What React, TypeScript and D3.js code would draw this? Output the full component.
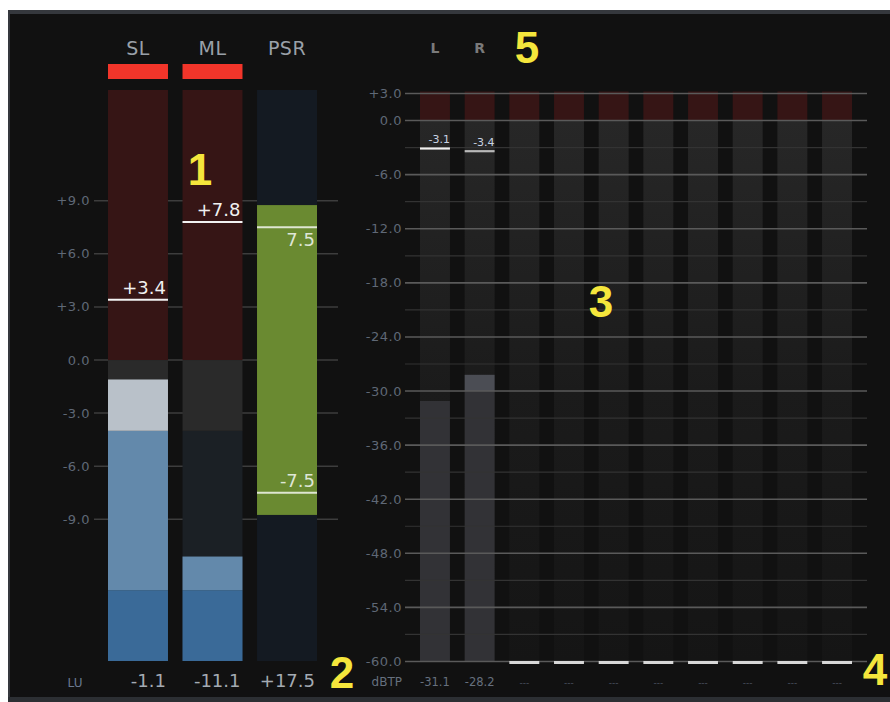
import React from 'react';
import * as d3 from 'd3';

// ---------- data ----------
const loudCategories = ['SL', 'ML', 'PSR'];
const loudValues = [-1.1, -11.1, 17.5];
const loudMaxValues: (number | null)[] = [3.4, 7.8, null];
const loudOverIndicators = [true, true, false];
const psrMarkers = [7.5, -7.5];
const luTicks = [9, 6, 3, 0, -3, -6, -9];
const luUnit = 'LU';

const channelNames = ['L', 'R', '', '', '', '', '', '', '', ''];
const channelLevels: (number | null)[] = [-31.1, -28.2, null, null, null, null, null, null, null, null];
const channelPeaks: (number | null)[] = [-3.1, -3.4, null, null, null, null, null, null, null, null];
const dbMajorTicks = [3, 0, -6, -12, -18, -24, -30, -36, -42, -48, -54, -60];
const dbMinorTicks = [-3, -9, -15, -21, -27, -33, -39, -45, -51, -57];
const dbUnit = 'dBTP';

// ---------- styles ----------
const FONT = '"DejaVu Sans", Verdana, sans-serif';
const TICK_COLOR = '#5f6876';
const YELLOW = '#f5e63c';

const luZones = [
  { from: -17, to: -13, lit: '#3a6a98', unlit: '#1b2025' },
  { from: -13, to: -4, lit: '#6389ab', unlit: '#1b2025' },
  { from: -4, to: 0, lit: '#b9c1c9', unlit: '#2a2a2a' },
  { from: 0, to: 15.25, lit: '#e03a2a', unlit: '#361515' },
];

export default function App() {
  const yLU = d3.scaleLinear().domain([-17, 15.25]).range([661, 90]);
  const xLU = d3.scaleBand<string>().domain(loudCategories).range([108, 317]).paddingInner(0.195).paddingOuter(0);
  const bw = xLU.bandwidth();

  const yDB = d3.scaleLinear().domain([-60, 3]).range([661.5, 93.5]);
  const chIdx = channelNames.map((_, i) => String(i));
  const xCh = d3.scaleBand<string>().domain(chIdx).range([420, 852]).paddingInner(0.33).paddingOuter(0);
  const cw = xCh.bandwidth();

  return (
    <div style={{ position: 'absolute', left: 0, top: 0 }}>
      <svg width={890} height={702} style={{ display: 'block', background: '#ffffff' }}>
        <defs>
          <linearGradient id="unlitGrad" x1="0" y1={yDB(0)} x2="0" y2={yDB(-60)} gradientUnits="userSpaceOnUse">
            <stop offset="0" stopColor="#272727" />
            <stop offset="0.5" stopColor="#1b1b1b" />
            <stop offset="1" stopColor="#151515" />
          </linearGradient>
        </defs>
        {/* panel */}
        <rect x={8} y={10} width={884} height={694} fill="#111111" />
        <rect x={8} y={10} width={884} height={4} fill="#35383d" />
        <rect x={8} y={10} width={2} height={690} fill="#35383d" />
        <rect x={8} y={697} width={884} height={5} fill="#2c2f33" />

        {/* ---------- left loudness section ---------- */}
        {luTicks.map((t) => (
          <g key={'lt' + t}>
            <line x1={94} x2={338} y1={yLU(t)} y2={yLU(t)} stroke="#3d3d3d" strokeWidth={1.5} />
            <text x={90} y={yLU(t) + 4.5} textAnchor="end" fontFamily={FONT} fontSize={13} letterSpacing={0.5} fill={TICK_COLOR}>
              {(t > 0 ? '+' : '') + t.toFixed(1)}
            </text>
          </g>
        ))}

        {loudCategories.map((c, i) => {
          const x = xLU(c)!;
          const v = loudValues[i];
          const cx = x + bw / 2;
          const header = (
            <text x={cx} y={55} textAnchor="middle" fontFamily={FONT} fontSize={19} fill="#9aa0a8" letterSpacing={0.5}>
              {c}
            </text>
          );
          const bottom = (
            <text x={x + bw - 2} y={687} textAnchor="end" fontFamily={FONT} fontSize={18} fill="#a4abb3">
              {(v > 0 ? '+' : '') + v.toFixed(1)}
            </text>
          );
          if (c === 'PSR') {
            return (
              <g key={c}>
                {header}
                <rect x={x} y={yLU(15.25)} width={bw} height={yLU(-17) - yLU(15.25)} fill="#141a22" />
                <rect x={x} y={yLU(v / 2)} width={bw} height={yLU(-v / 2) - yLU(v / 2)} fill="#6a8a31" />
                {psrMarkers.map((m) => (
                  <g key={'pm' + m}>
                    <line x1={x} x2={x + bw} y1={yLU(m)} y2={yLU(m)} stroke="#dfe6d2" strokeWidth={2} />
                    <text
                      x={x + bw - 2}
                      y={m > 0 ? yLU(m) + 19 : yLU(m) - 6}
                      textAnchor="end"
                      fontFamily={FONT}
                      fontSize={18}
                      fill="#dfe6d6"
                    >
                      {m.toFixed(1)}
                    </text>
                  </g>
                ))}
                {bottom}
              </g>
            );
          }
          const mx = loudMaxValues[i];
          return (
            <g key={c}>
              {header}
              {loudOverIndicators[i] && <rect x={x} y={64} width={bw} height={15} fill="#f2352a" />}
              {luZones.map((z, k) => (
                <rect key={'u' + k} x={x} y={yLU(z.to)} width={bw} height={yLU(z.from) - yLU(z.to)} fill={z.unlit} />
              ))}
              {luZones
                .filter((z) => v > z.from)
                .map((z, k) => {
                  const top = Math.min(v, z.to);
                  return (
                    <rect key={'l' + k} x={x} y={yLU(top)} width={bw} height={yLU(z.from) - yLU(top)} fill={z.lit} />
                  );
                })}
              {mx !== null && (
                <g>
                  <line x1={x} x2={x + bw} y1={yLU(mx)} y2={yLU(mx)} stroke="#f2f2f2" strokeWidth={2} />
                  <text x={x + bw - 2} y={yLU(mx) - 6} textAnchor="end" fontFamily={FONT} fontSize={18} fill="#f0f0f0">
                    {(mx > 0 ? '+' : '') + mx.toFixed(1)}
                  </text>
                </g>
              )}
              {bottom}
            </g>
          );
        })}
        <text x={75} y={687} textAnchor="middle" fontFamily={FONT} fontSize={12} fill="#6a7890">
          {luUnit}
        </text>

        {/* ---------- right true-peak section ---------- */}
        {chIdx.map((k, i) => {
          const x = xCh(k)!;
          const lvl = channelLevels[i];
          return (
            <g key={'ch' + k}>
              <rect x={x} y={yDB(3) - 2} width={cw} height={yDB(0) - yDB(3) + 2} fill="#361515" />
              <rect x={x} y={yDB(0)} width={cw} height={yDB(-60) - yDB(0)} fill="url(#unlitGrad)" />
              {lvl !== null && (
                <g>
                  <rect x={x} y={yDB(Math.min(lvl, -30))} width={cw} height={yDB(-60) - yDB(Math.min(lvl, -30))} fill="#323236" />
                  {lvl > -30 && <rect x={x} y={yDB(lvl)} width={cw} height={yDB(-30) - yDB(lvl)} fill="#4b4d54" />}
                </g>
              )}
              {channelNames[i] && (
                <text x={x + cw / 2} y={53} textAnchor="middle" fontFamily={FONT} fontSize={14} fontWeight="bold" fill="#7a7a7a">
                  {channelNames[i]}
                </text>
              )}
            </g>
          );
        })}

        {dbMinorTicks.map((t) => (
          <line key={'mn' + t} x1={405} x2={867} y1={yDB(t)} y2={yDB(t)} stroke="#333333" strokeWidth={1.2} />
        ))}
        {dbMajorTicks.map((t) => (
          <g key={'mj' + t}>
            <line x1={405} x2={867} y1={yDB(t)} y2={yDB(t)} stroke="#5a5a5a" strokeWidth={1.6} />
            <text x={402} y={yDB(t) + 4.5} textAnchor="end" fontFamily={FONT} fontSize={13} letterSpacing={0.5} fill={TICK_COLOR}>
              {(t > 0 ? '+' : '') + t.toFixed(1)}
            </text>
          </g>
        ))}

        {chIdx.map((k, i) => {
          const x = xCh(k)!;
          const pk = channelPeaks[i];
          const lvl = channelLevels[i];
          return (
            <g key={'pk' + k}>
              {pk !== null ? (
                <g>
                  <line x1={x} x2={x + cw} y1={yDB(pk)} y2={yDB(pk)} stroke={i === 0 ? '#f0f0f0' : '#b8b8b8'} strokeWidth={2.2} />
                  <text x={x + cw} y={yDB(pk) - 5} textAnchor="end" fontFamily={FONT} fontSize={11} fill="#c8d2e2">
                    {pk.toFixed(1)}
                  </text>
                </g>
              ) : (
                <rect x={x} y={yDB(-60) - 0.5} width={cw} height={3} fill="#d8d8d8" />
              )}
              <text x={x + cw / 2} y={686} textAnchor="middle" fontFamily={FONT} fontSize={lvl !== null ? 11.5 : 9} fill={lvl !== null ? '#66707e' : '#4a5260'}>
                {lvl !== null ? lvl.toFixed(1) : '---'}
              </text>
            </g>
          );
        })}
        <text x={402} y={686} textAnchor="end" fontFamily={FONT} fontSize={12} fill="#66707e">
          {dbUnit}
        </text>

        {/* ---------- annotation numbers ---------- */}
        <g fontFamily='"Liberation Sans", Arial, sans-serif' fontWeight="bold" fontSize={44} fill={YELLOW} textAnchor="middle">
          <text x={200} y={185}>1</text>
          <text x={342} y={688}>2</text>
          <text x={601} y={317}>3</text>
          <text x={875} y={685}>4</text>
          <text x={527} y={63}>5</text>
        </g>
      </svg>
    </div>
  );
}
